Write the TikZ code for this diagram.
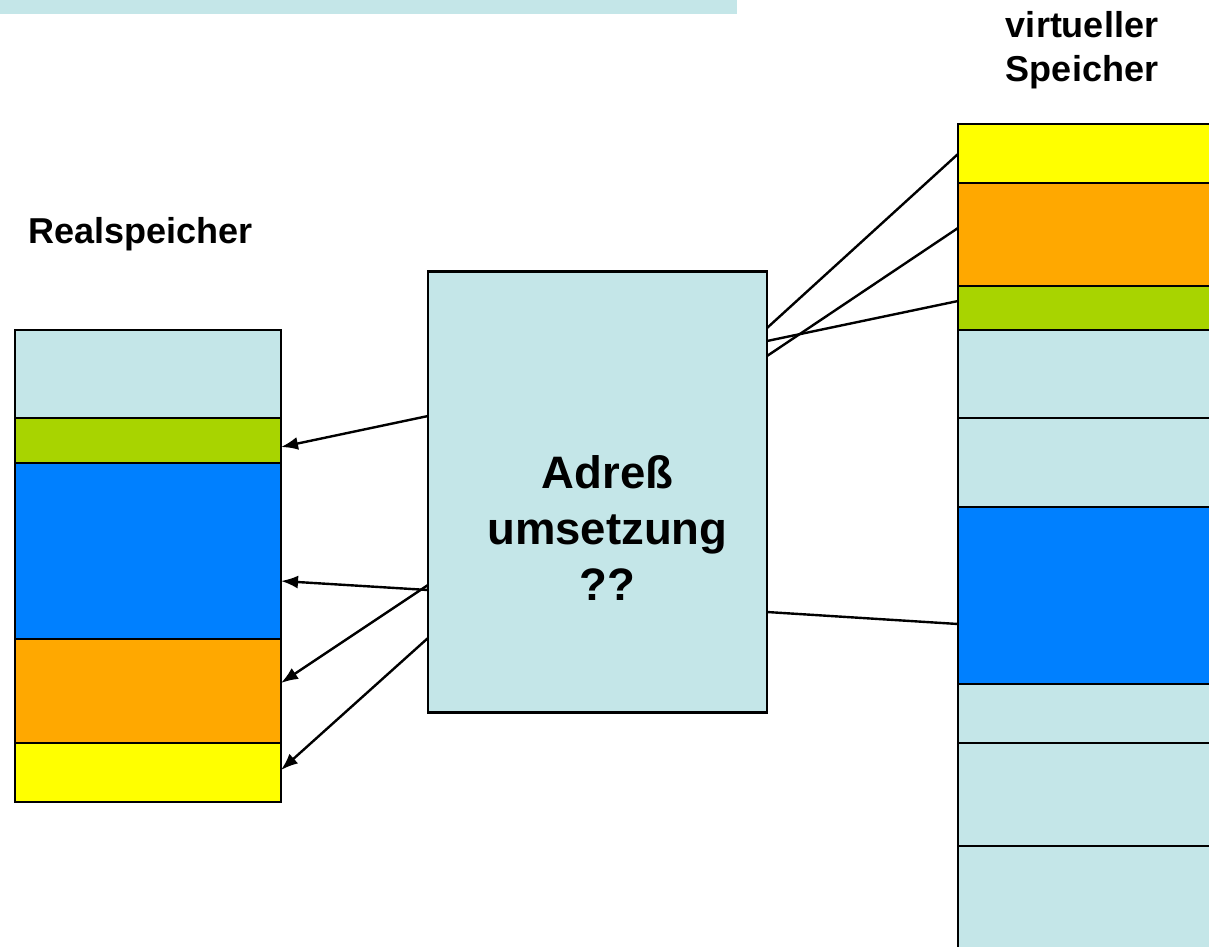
\documentclass[tikz,border=0pt]{standalone}
\usepackage{fontspec}
\setmainfont{Liberation Sans}
\usepackage{tikz}
\usetikzlibrary{arrows.meta, positioning, calc}
\definecolor{hellblau}{RGB}{196,230,232}
\definecolor{gruen}{RGB}{168,212,0}
\definecolor{orange}{RGB}{255,168,0}
\definecolor{gelb}{RGB}{255,255,0}
\definecolor{blau}{RGB}{0,128,255}
\tikzstyle{seg} = [rectangle, draw, line width=2.4pt, inner sep=0pt, outer sep=0pt]
\tikzstyle{links} = [seg, minimum width=266pt]
\tikzstyle{rechts} = [seg, minimum width=257pt]
\tikzstyle{titel} = [inner sep=0pt, align=center, font=\fontsize{36}{44}\selectfont\bfseries]
\tikzstyle{mitte} = [inner sep=0pt, align=center, font=\fontsize{45.5}{56}\selectfont\bfseries]
\tikzstyle{pfeil} = [-{Latex[length=17pt,width=13pt]}, line width=2.4pt]
\tikzstyle{linie} = [line width=2.4pt]

\begin{document}
\begin{tikzpicture}[x=1pt, y=-1pt]
		\useasboundingbox (0,0) rectangle (1209,946);
		\clip (0,0) rectangle (1209,946);
		\fill[hellblau] (0,0) rectangle (737,14);
		
		% Realspeicher
		\node[titel, anchor=base west] (realtitel) at (28,243) {Realspeicher};
		\node[links, fill=hellblau, minimum height=88pt, anchor=north west] (realfrei) at (15,330) {};
		\node[links, fill=gruen, minimum height=45pt, below=0pt of realfrei] (realgruen) {};
		\node[links, fill=blau, minimum height=176pt, below=0pt of realgruen] (realblau) {};
		\node[links, fill=orange, minimum height=104pt, below=0pt of realblau] (realorange) {};
		\node[links, fill=gelb, minimum height=59pt, below=0pt of realorange] (realgelb) {};
		
		% Adressumsetzung
		\node[seg, fill=hellblau, minimum width=339pt, minimum height=441pt, anchor=north west] (umsetz) at (428,271.5) {};
		\node[mitte] (umsetztext) at ($(umsetz.center)+(10,36)$) {Adreß\\umsetzung\\??};
		
		% virtueller Speicher
		\node[titel] (virttitel) at (1082,50) {virtueller\\Speicher};
		\node[rechts, fill=gelb, minimum height=59pt, anchor=north west] (virtgelb) at (958,124) {};
		\node[rechts, fill=orange, minimum height=103pt, below=0pt of virtgelb] (virtorange) {};
		\node[rechts, fill=gruen, minimum height=44pt, below=0pt of virtorange] (virtgruen) {};
		\node[rechts, fill=hellblau, minimum height=88pt, below=0pt of virtgruen] (virtfrei1) {};
		\node[rechts, fill=hellblau, minimum height=89pt, below=0pt of virtfrei1] (virtfrei2) {};
		\node[rechts, fill=blau, minimum height=177pt, below=0pt of virtfrei2] (virtblau) {};
		\node[rechts, fill=hellblau, minimum height=59pt, below=0pt of virtblau] (virtfrei3) {};
		\node[rechts, fill=hellblau, minimum height=103pt, below=0pt of virtfrei3] (virtfrei4) {};
		\node[rechts, fill=hellblau, minimum height=120pt, below=0pt of virtfrei4] (virtfrei5) {};
		
		\draw[pfeil] (umsetz.west |- 0,416) -- (realgruen.east |- 0,447);
		\draw[pfeil] (umsetz.west |- 0,590) -- (realblau.east |- 0,581);
		\draw[pfeil] (umsetz.west |- 0,585) -- (realorange.east |- 0,683);
		\draw[pfeil] (umsetz.west |- 0,638) -- (realgelb.east |- 0,770);
		\draw[linie] (umsetz.east |- 0,328) -- (virtgelb.west |- 0,154);
		\draw[linie] (umsetz.east |- 0,356) -- (virtorange.west |- 0,228);
		\draw[linie] (umsetz.east |- 0,341) -- (virtgruen.west |- 0,301);
		\draw[linie] (umsetz.east |- 0,612) -- (virtblau.west |- 0,624);
		
	\end{tikzpicture}
\end{document}
